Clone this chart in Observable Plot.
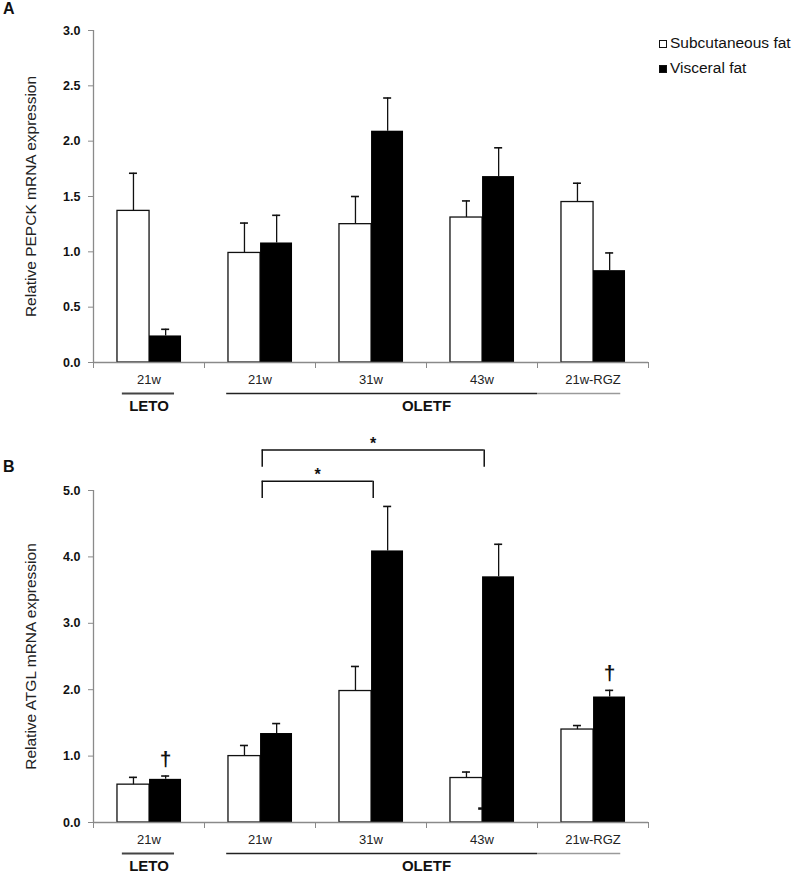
<!DOCTYPE html>
<html><head><meta charset="utf-8">
<script src="https://cdn.jsdelivr.net/npm/d3@7"></script>
<script src="https://cdn.jsdelivr.net/npm/@observablehq/plot@0.6"></script>
<style>
body{margin:0;background:#fff;}
#wrap{position:relative;width:792px;height:876px;font-family:"Liberation Sans",Arial,sans-serif;color:#111;}
#wrap svg{display:block;}
.panel-letter{position:absolute;font-weight:bold;font-size:16px;line-height:18px;}
.leg-sq{position:absolute;box-sizing:border-box;width:8px;height:8px;border:1px solid #111;}
.leg-tx{position:absolute;font-size:15.5px;line-height:15.5px;white-space:nowrap;color:#111;}
</style></head>
<body>
<div id="wrap">
  <div class="panel-letter" style="left:3px;top:0px">A</div>
  <div class="panel-letter" style="left:3px;top:458px">B</div>
  <div class="leg-sq" style="left:659px;top:40px;background:#fff"></div>
  <div class="leg-tx" style="left:670px;top:35px">Subcutaneous fat</div>
  <div class="leg-sq" style="left:659px;top:65px;background:#000"></div>
  <div class="leg-tx" style="left:670px;top:60px">Visceral fat</div>
  <div id="panelA"></div>
  <div id="panelB"></div>
</div>
<script>
// ---- data ----
const groupLabels = ["21w", "21w", "31w", "43w", "21w-RGZ"];
const strainNames = ["LETO", "OLETF"];
const strainFirstGroup = [0, 1];
const strainLastGroup = [0, 4];

const pepckSub   = [1.37, 0.99, 1.25, 1.31, 1.45];
const pepckSubSE = [0.34, 0.27, 0.25, 0.15, 0.17];
const pepckVis   = [0.24, 1.08, 2.09, 1.68, 0.83];
const pepckVisSE = [0.06, 0.25, 0.30, 0.26, 0.16];

const atglSub    = [0.57, 1.00, 1.98, 0.67, 1.40];
const atglSubSE  = [0.11, 0.16, 0.37, 0.09, 0.06];
const atglVis    = [0.65, 1.34, 4.09, 3.70, 1.89];
const atglVisSE  = [0.05, 0.15, 0.67, 0.49, 0.10];
const atglDagger = [true, false, false, false, true];
const atglCompFrom  = [1, 1];
const atglCompTo    = [2, 3];
const atglCompLevel = [5.14, 5.61];
const atglCompLabel = ["*", "*"];
const atglStrayGroup = [3];
const atglStrayValue = [0.21];

const pepckTicks = [0, 0.5, 1.0, 1.5, 2.0, 2.5, 3.0];
const atglTicks  = [0, 1.0, 2.0, 3.0, 4.0, 5.0];

// ---- drawing ----
const AX = "#8a8a8a", INK = "#111";
function panel({sub, subSE, vis, visSE, yMax, yTicks, yLabel, height, marginTop, marginBottom,
                dagger = [], comps = [], strays = []}) {
  const rows = groupLabels.map((g, i) => ({i, g}));
  const subData = sub.map((v, i) => ({i, v, se: subSE[i]}));
  const visData = vis.map((v, i) => ({i, v, se: visSE[i]}));
  const subC = d => d.i + 0.36, visC = d => d.i + 0.65;
  const strains = strainNames.map((name, k) => ({name, first: strainFirstGroup[k], last: strainLastGroup[k]}));
  const strainSegs = [
    {x1: 0.26, x2: 0.73, c: "#444", w: 2},
    {x1: 1.2, x2: 4.0, c: "#222", w: 1.6},
    {x1: 4.0, x2: 4.75, c: "#9a9a9a", w: 1.6}
  ];
  const compEnds = comps.flatMap(c => [{x: c.from + 0.52, level: c.level}, {x: c.to + 0.52, level: c.level}]);
  return Plot.plot({
    width: 792, height, marginLeft: 93, marginRight: 144, marginTop, marginBottom,
    style: {fontFamily: "Liberation Sans, Arial, sans-serif", overflow: "visible", background: "white"},
    x: {domain: [0, 5]},
    y: {domain: [0, yMax]},
    marks: [
      Plot.rect(subData, {x1: d => d.i + 0.216, x2: d => d.i + 0.505, y1: 0, y2: d => d.v, fill: "white", stroke: INK, strokeWidth: 1.3}),
      Plot.rect(visData, {x1: d => d.i + 0.505, x2: d => d.i + 0.793, y1: 0, y2: d => d.v, fill: "black"}),
      Plot.ruleX(subData, {x: subC, y1: d => d.v, y2: d => d.v + d.se, stroke: INK, strokeWidth: 1.3}),
      Plot.ruleY(subData, {y: d => d.v + d.se, x1: subC, x2: subC, insetLeft: -4, insetRight: -4, stroke: INK, strokeWidth: 1.6}),
      Plot.ruleX(visData, {x: visC, y1: d => d.v, y2: d => d.v + d.se, stroke: INK, strokeWidth: 1.3}),
      Plot.ruleY(visData, {y: d => d.v + d.se, x1: visC, x2: visC, insetLeft: -4, insetRight: -4, stroke: INK, strokeWidth: 1.6}),
      Plot.ruleY(strays, {y: "v", x1: d => d.i + 0.47, x2: d => d.i + 0.505, stroke: INK, strokeWidth: 2.5}),
      // axes
      Plot.ruleX([0], {x: d => d, y1: 0, y2: yMax, stroke: AX, strokeWidth: 1.3}),
      Plot.ruleY([0], {y: d => d, x1: 0, x2: 5, stroke: AX, strokeWidth: 1.3}),
      Plot.axisY({ticks: yTicks, tickFormat: d3.format(".1f"), tickSize: 5, tickPadding: 8, stroke: AX, fill: INK,
                  fontWeight: "bold", fontSize: 12.5, label: null}),
      Plot.axisX({ticks: [0, 1, 2, 3, 4, 5], tickFormat: () => "", tickSize: 6, stroke: AX, label: null}),
      Plot.text([yLabel], {frameAnchor: "left", textAnchor: "middle", dx: -62, rotate: -90, text: d => d, fontSize: 15.5, fill: "#222"}),
      // categories below axis
      Plot.text(rows, {x: d => d.i + 0.5, y: 0, dy: 17, text: "g", fontSize: 13, fill: "#222"}),
      Plot.ruleY(strainSegs, {y: 0, dy: 31, x1: "x1", x2: "x2", stroke: "c", strokeWidth: "w"}),
      Plot.text(strains, {x: d => (d.first + d.last + 1) / 2, y: 0, dy: 44, text: "name", fontWeight: "bold", fontSize: 15, fill: INK}),
      // annotations
      Plot.text(visData.filter(d => dagger[d.i]), {x: visC, y: d => d.v + d.se, dy: -17, text: () => "†", fontWeight: "bold", fontSize: 21, fill: INK}),
      Plot.ruleY(comps, {y: "level", x1: d => d.from + 0.52, x2: d => d.to + 0.52, stroke: INK, strokeWidth: 1.5}),
      Plot.ruleX(compEnds, {x: "x", y1: d => d.level - 0.26, y2: "level", stroke: INK, strokeWidth: 1.5}),
      Plot.text(comps, {x: d => (d.from + d.to) / 2 + 0.52, y: "level", dy: -6, text: "label", fontWeight: "bold", fontSize: 16, fill: INK})
    ]
  });
}

document.getElementById("panelA").append(panel({
  sub: pepckSub, subSE: pepckSubSE, vis: pepckVis, visSE: pepckVisSE,
  yMax: 3, yTicks: pepckTicks, yLabel: "Relative PEPCK mRNA expression",
  height: 430, marginTop: 30, marginBottom: 68
}));

document.getElementById("panelB").append(panel({
  sub: atglSub, subSE: atglSubSE, vis: atglVis, visSE: atglVisSE,
  yMax: 5, yTicks: atglTicks, yLabel: "Relative ATGL mRNA expression",
  height: 446, marginTop: 60, marginBottom: 54,
  dagger: atglDagger,
  comps: atglCompFrom.map((f, k) => ({from: f, to: atglCompTo[k], level: atglCompLevel[k], label: atglCompLabel[k]})),
  strays: atglStrayGroup.map((g, k) => ({i: g, v: atglStrayValue[k]}))
}));
</script>
</body></html>
